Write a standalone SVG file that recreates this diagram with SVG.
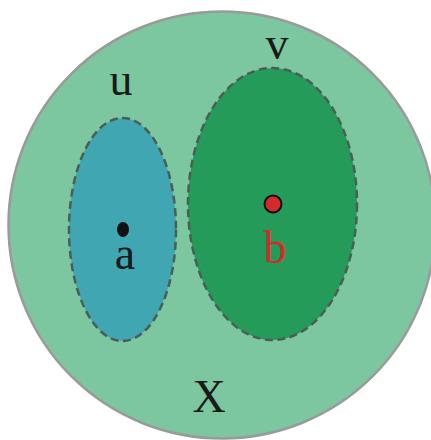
<svg xmlns="http://www.w3.org/2000/svg" width="431" height="440" viewBox="0 0 431 440">
<style>
.set{stroke:#4b5e55;stroke-width:2.5;stroke-dasharray:8 4.5}
.lbl{font-family:"Liberation Serif",serif;font-size:46px;text-anchor:middle;fill:#1a1a1a}
</style>
<rect width="431" height="440" fill="#ffffff"/>
<g id="X">
<circle cx="222" cy="225" r="213.5" fill="#7CC6A0" stroke="#9a9a9a" stroke-width="2.5"/>
<text class="lbl" x="209" y="412">X</text>
</g>
<g id="u">
<ellipse class="set" cx="122.5" cy="229.5" rx="53.5" ry="111.5" fill="#40A6B2"/>
<text class="lbl" x="121" y="95">u</text>
</g>
<g id="v">
<ellipse class="set" cx="272.5" cy="204" rx="84.5" ry="136" fill="#259B5A"/>
<text class="lbl" x="277" y="59">v</text>
</g>
<g id="a">
<ellipse cx="123" cy="229.5" rx="6" ry="7.5" fill="#111"/>
<text class="lbl" x="125" y="269">a</text>
</g>
<g id="b">
<circle cx="273" cy="204" r="8.5" fill="#D42A2A" stroke="#111" stroke-width="2"/>
<text class="lbl" x="275" y="263" style="fill:#D42A2A">b</text>
</g>
<g id="connectors"/>
</svg>
